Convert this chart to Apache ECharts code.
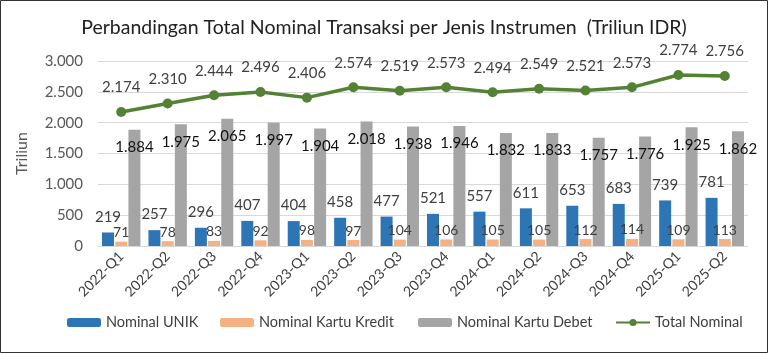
<!DOCTYPE html>
<html><head><meta charset="utf-8">
<script src="https://cdn.jsdelivr.net/npm/echarts@6/dist/echarts.min.js"></script>
<style>html,body{margin:0;padding:0;background:#fff}#c{width:768px;height:353px}</style>
</head><body><div id="c"></div>
<script>
const categories = ['2022-Q1','2022-Q2','2022-Q3','2022-Q4','2023-Q1','2023-Q2','2023-Q3','2023-Q4','2024-Q1','2024-Q2','2024-Q3','2024-Q4','2025-Q1','2025-Q2'];
const unik = [219,257,296,407,404,458,477,521,557,611,653,683,739,781];
const kredit = [71,78,83,92,98,97,104,106,105,105,112,114,109,113];
const debet = [1884,1975,2065,1997,1904,2018,1938,1946,1832,1833,1757,1776,1925,1862];
const total = [2174,2310,2444,2496,2406,2574,2519,2573,2494,2549,2521,2573,2774,2756];
const yTicks = [0,500,1000,1500,2000,2500,3000];

function fmt(v){ v=Math.round(v); const s=String(v); return s.replace(/\B(?=(\d{3})+(?!\d))/g,'.'); }
const FONT = 'Lato';
const chart = echarts.init(document.getElementById('c'));
const legendBase = {top: 310, itemWidth: 34, itemHeight: 9, textStyle:{fontFamily:FONT,fontSize:14.5,color:'#404040'}, itemGap: 4};
chart.setOption({
  animation:false,
  textStyle:{fontFamily:FONT},
  title:{text:'Perbandingan Total Nominal Transaksi per Jenis Instrumen  (Triliun IDR)', left:'center', top:13,
    textStyle:{fontFamily:FONT,fontSize:19.5,fontWeight:'normal',color:'#222'}},
  graphic:[{type:'rect',shape:{x:0.5,y:0.5,width:767,height:352},style:{fill:'none',stroke:'#333',lineWidth:1},silent:true}],
  legend:[
    Object.assign({left:62,data:['Nominal UNIK']},legendBase),
    Object.assign({left:215,data:['Nominal Kartu Kredit']},legendBase),
    Object.assign({left:413,data:['Nominal Kartu Debet']},legendBase),
    Object.assign({left:610,data:['Total Nominal']},legendBase)
  ],
  grid:{left:98,right:20,top:61,bottom:107},
  xAxis:{type:'category',data:categories,
    axisLine:{lineStyle:{color:'#D9D9D9'}},axisTick:{show:false},
    axisLabel:{rotate:45,fontSize:14,color:'#404040',margin:8,fontFamily:FONT,interval:0}},
  yAxis:{type:'value',min:yTicks[0],max:yTicks[yTicks.length-1],interval:500,
    name:'Triliun',nameLocation:'middle',nameGap:68,nameTextStyle:{fontSize:16,color:'#595959',fontFamily:FONT},
    axisLine:{show:false},axisTick:{show:false},
    splitLine:{lineStyle:{color:'#D9D9D9'}},
    axisLabel:{fontSize:15,color:'#595959',margin:15,fontFamily:FONT,formatter:v=>fmt(v)}},
  series:[
    {name:'Nominal UNIK',type:'bar',data:unik,barWidth:12,barGap:'10%',itemStyle:{color:'#2E75B6'},
      label:{show:true,position:'top',distance:8,fontSize:15,color:'#404040',formatter:p=>fmt(p.value)}},
    {name:'Nominal Kartu Kredit',type:'bar',data:kredit,barWidth:12,barGap:'10%',itemStyle:{color:'#F4B183'},
      label:{show:true,position:'top',distance:2,fontSize:14,color:'#404040',formatter:p=>fmt(p.value)}},
    {name:'Nominal Kartu Debet',type:'bar',data:debet,barWidth:12,barGap:'10%',itemStyle:{color:'#A5A5A5'},
      label:{show:true,position:'insideTop',distance:10,fontSize:15,color:'#111',formatter:p=>fmt(p.value)}},
    {name:'Total Nominal',type:'line',data:total,symbol:'circle',symbolSize:10,
      lineStyle:{color:'#548235',width:3.5},itemStyle:{color:'#548235'},
      label:{show:true,position:'top',distance:12,fontSize:15,color:'#404040',formatter:p=>fmt(p.value)}}
  ]
});
</script></body></html>
